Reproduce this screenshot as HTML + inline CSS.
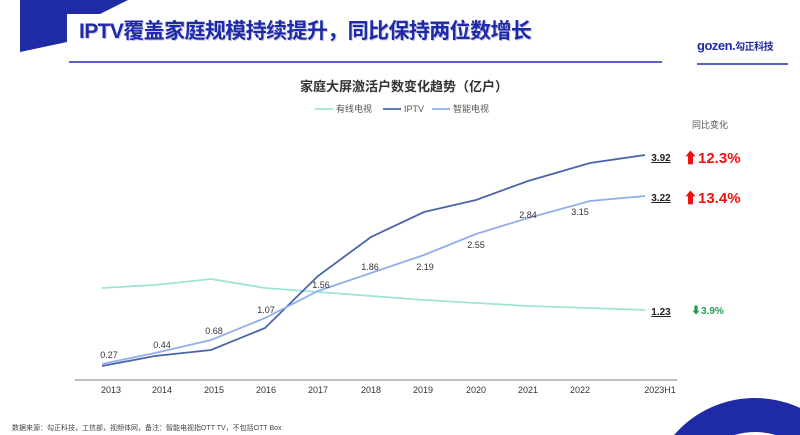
<!DOCTYPE html>
<html style="overflow:hidden"><head><meta charset="utf-8"><style>
html,body{margin:0;width:800px;height:435px;overflow:hidden}
body{background:#fff;position:relative;font-family:"Liberation Sans","Noto Sans CJK SC",sans-serif}
.a{position:absolute;white-space:nowrap}
</style></head><body>
<svg class="a" style="left:0;top:0" width="800" height="435" viewBox="0 0 800 435">
<polygon points="20,0 128,0 100,14 67,14 67,42 20,52" fill="#1f2aa6"/>
<rect x="69" y="61" width="593" height="2" fill="#5a63c9"/>
<rect x="697" y="63" width="91" height="2" fill="#5a63c9"/>
<circle cx="755" cy="505" r="90" fill="none" stroke="#1f2aa6" stroke-width="34"/>
<line x1="75" y1="380" x2="677" y2="380" stroke="#999" stroke-width="1.2"/>
<g stroke-width="1.8" fill="none">
<polyline stroke="#9ee3d6" points="102,288 155,285 211,279 265,288 318,292 371,296 424,300 476,303 528,306 590,308 645,310"/>
<polyline stroke="#4a66a8" points="102,366 155,356 211,350 265,328 318,276 371,237 424,212 476,200 528,181 590,163 645,155"/>
<polyline stroke="#94aeea" points="102,364 155,353 211,340 265,318 318,291 371,273 424,255 476,234 528,218 590,201 645,196"/>
<line x1="315" y1="109" x2="333" y2="109" stroke="#9ee3d6"/>
<line x1="383" y1="109" x2="401" y2="109" stroke="#4a66a8"/>
<line x1="432" y1="109" x2="450" y2="109" stroke="#94aeea"/>
</g>
<g font-size="9" fill="#333" text-anchor="middle">
<text x="111" y="393">2013</text><text x="162" y="393">2014</text><text x="214" y="393">2015</text><text x="266" y="393">2016</text><text x="318" y="393">2017</text><text x="371" y="393">2018</text><text x="423" y="393">2019</text><text x="476" y="393">2020</text><text x="528" y="393">2021</text><text x="580" y="393">2022</text><text x="660" y="393">2023H1</text>
<text x="109" y="358">0.27</text><text x="162" y="348">0.44</text><text x="214" y="334">0.68</text><text x="266" y="313">1.07</text><text x="321" y="288">1.56</text><text x="370" y="270">1.86</text><text x="425" y="270">2.19</text><text x="476" y="248">2.55</text><text x="528" y="218">2.84</text><text x="580" y="215">3.15</text>
</g>
<g font-size="10" font-weight="bold" fill="#222" text-anchor="middle" text-decoration="underline">
<text x="661" y="161">3.92</text><text x="661" y="201">3.22</text><text x="661" y="315">1.23</text>
</g>
<g font-size="9" fill="#555">
<text x="336" y="112">有线电视</text><text x="404" y="112">IPTV</text><text x="453" y="112">智能电视</text>
<text x="692" y="128">同比变化</text>
</g>
<text x="683" y="163" font-size="15" font-weight="bold" fill="#f01010">⬆12.3%</text>
<text x="683" y="203" font-size="15" font-weight="bold" fill="#f01010">⬆13.4%</text>
<text x="691" y="314" font-size="10" font-weight="bold" fill="#22a050">⬇3.9%</text>
</svg>
<div class="a" style="left:79px;top:15px;font-size:21px;letter-spacing:-0.6px;font-weight:bold;color:#1f2aa6;text-shadow:1px 1px 0 #c8c8e8">IPTV覆盖家庭规模持续提升，同比保持两位数增长</div>
<div class="a" style="left:697px;top:38px;font-size:13px;font-weight:bold;color:#1f2aa6;letter-spacing:-0.5px">gozen.<span style="font-size:10px">勾正科技</span></div>
<div class="a" style="left:300px;top:76px;font-size:13px;font-weight:bold;color:#333">家庭大屏激活户数变化趋势（亿户）</div>
<div class="a" style="left:12px;top:423px;font-size:7px;color:#444">数据来源：勾正科技，工信部，视频体网，备注：智能电视指OTT TV，不包括OTT Box</div>
</body></html>
